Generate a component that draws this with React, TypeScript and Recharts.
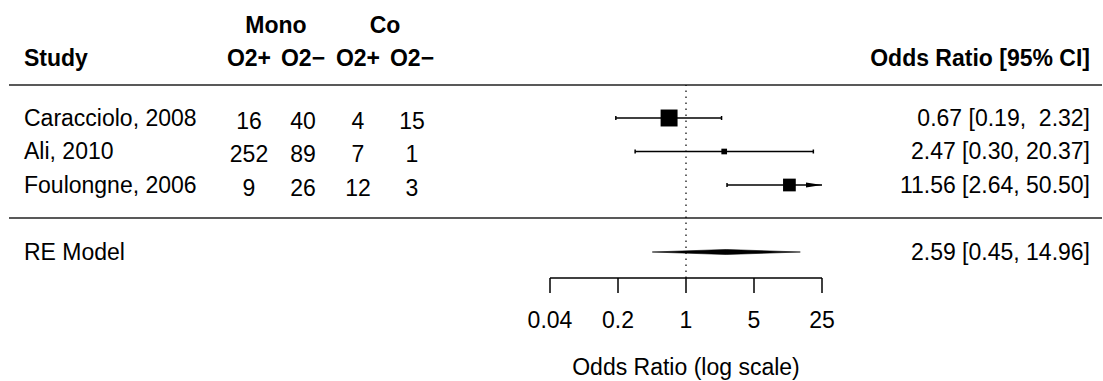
import React from 'react';
import { ComposedChart, Scatter, XAxis, YAxis, ReferenceLine, Customized } from 'recharts';

// study table
const studies = ['Caracciolo, 2008', 'Ali, 2010', 'Foulongne, 2006'];
const studyRows = [3, 2, 1];
const monoPos = [16, 252, 9];
const monoNeg = [40, 89, 26];
const coPos = [4, 7, 12];
const coNeg = [15, 1, 3];

// odds ratios with 95% CI
const orEst = [0.67, 2.47, 11.56];
const ciLow = [0.19, 0.3, 2.64];
const ciHigh = [2.32, 20.37, 50.5];

// random-effects summary
const reLabel = 'RE Model';
const reRow = -1;
const reEst = 2.59;
const reLow = 0.45;
const reHigh = 14.96;

const axisTicks = [0.04, 0.2, 1, 5, 25];
const alim: [number, number] = [0.04, 25];

const FONT = '"Liberation Sans", Arial, Helvetica, sans-serif';
const FS = 23;
const COL = { study: 24, mono1: 249, mono2: 303, co1: 358, co2: 412, ci: 1090 };
const CAP = 0.06;

const fmt = (v: number) => v.toFixed(2);
const hiWidth = Math.max(...ciHigh.map(v => fmt(v).length), fmt(reHigh).length);
const ciText = (e: number, l: number, h: number) => `${fmt(e)} [${fmt(l)}, ${fmt(h).padStart(hiWidth, ' ')}]`;

// square size ~ precision (1/se), rescaled to 0.5..1.5
const se = ciLow.map((l, i) => (Math.log(ciHigh[i]) - Math.log(l)) / (2 * 1.96));
const wi = se.map(s => 1 / s);
const minW = Math.min(...wi);
const maxW = Math.max(...wi);
const psize = wi.map(w => 0.5 + (w - minW) / (maxW - minW));

const pointData = studies.map((s, i) => ({ x: orEst[i], y: studyRows[i], psize: psize[i] }));
const arrowData = studies
  .map((s, i) => ({ x: alim[1], y: studyRows[i], over: ciHigh[i] > alim[1] }))
  .filter(d => d.over);

const labelData = [
  ...studies.map((s, i) => ({
    x: 1,
    y: studyRows[i],
    name: s,
    cells: [monoPos[i], monoNeg[i], coPos[i], coNeg[i]],
    ci: ciText(orEst[i], ciLow[i], ciHigh[i]),
  })),
  { x: 1, y: reRow, name: reLabel, cells: [], ci: ciText(reEst, reLow, reHigh) },
];

const diamondH = 0.075;
const diamondData = [
  { x: reLow, y: reRow },
  { x: reEst, y: reRow + diamondH },
  { x: reHigh, y: reRow },
  { x: reEst, y: reRow - diamondH },
];

const segments: { key: string; seg: { x: number; y: number }[] }[] = [];
studies.forEach((s, i) => {
  const r = studyRows[i];
  const lo = Math.max(ciLow[i], alim[0]);
  const hi = Math.min(ciHigh[i], alim[1]);
  segments.push({ key: `ci${i}`, seg: [{ x: lo, y: r }, { x: hi, y: r }] });
  if (ciLow[i] >= alim[0]) segments.push({ key: `lc${i}`, seg: [{ x: lo, y: r - CAP }, { x: lo, y: r + CAP }] });
  if (ciHigh[i] <= alim[1]) segments.push({ key: `hc${i}`, seg: [{ x: hi, y: r - CAP }, { x: hi, y: r + CAP }] });
});

const cellCols = [COL.mono1, COL.mono2, COL.co1, COL.co2];

const RowLabels = (props: any) => {
  const { cy, payload } = props;
  const t = { fontFamily: FONT, fontSize: FS, fill: '#000', dominantBaseline: 'central' as const };
  return (
    <g>
      <text x={COL.study} y={cy} {...t}>{payload.name}</text>
      {payload.cells.map((c: number, j: number) => (
        <text key={j} x={cellCols[j]} y={cy + 3} textAnchor="middle" {...t}>{c}</text>
      ))}
      <text x={COL.ci} y={cy} textAnchor="end" style={{ whiteSpace: 'pre' }} {...t}>{payload.ci}</text>
    </g>
  );
};

const Square = (props: any) => {
  const { cx, cy, payload } = props;
  const s = payload.psize * 11.3;
  return <rect x={cx - s / 2} y={cy - s / 2} width={s} height={s} fill="#000" />;
};

const Arrow = (props: any) => {
  const { cx, cy } = props;
  return <polygon points={`${cx - 16},${cy - 2.5} ${cx},${cy} ${cx - 16},${cy + 2.5}`} fill="#000" />;
};

const Diamond = (props: any) => {
  const pts = (props.points || []).map((p: any) => `${p.x},${p.y}`).join(' ');
  return <polygon points={pts} fill="#000" stroke="#000" strokeWidth={0.6} />;
};

const Header = () => {
  const b = { fontFamily: FONT, fontSize: FS, fill: '#000', fontWeight: 'bold' as const, dominantBaseline: 'central' as const };
  return (
    <g>
      <text x={(COL.mono1 + COL.mono2) / 2} y={25} textAnchor="middle" {...b}>Mono</text>
      <text x={(COL.co1 + COL.co2) / 2} y={25} textAnchor="middle" {...b}>Co</text>
      <text x={COL.study} y={58} {...b}>Study</text>
      <text x={COL.mono1} y={58} textAnchor="middle" {...b}>O2+</text>
      <text x={COL.mono2} y={58} textAnchor="middle" {...b}>O2{'\u2212'}</text>
      <text x={COL.co1} y={58} textAnchor="middle" {...b}>O2+</text>
      <text x={COL.co2} y={58} textAnchor="middle" {...b}>O2{'\u2212'}</text>
      <text x={COL.ci} y={58} textAnchor="end" {...b}>Odds Ratio [95% CI]</text>
      <line x1={9} x2={1102} y1={85} y2={85} stroke="#222" strokeWidth={1.5} />
      <line x1={9} x2={1102} y1={218} y2={218} stroke="#222" strokeWidth={1.5} />
    </g>
  );
};

export default function App() {
  return (
    <div style={{ position: 'absolute', left: 0, top: 0, width: 1103, height: 381, background: '#fff' }}>
      <ComposedChart width={1103} height={381} margin={{ top: 85, right: 281, bottom: 0, left: 550 }}>
        <XAxis
          dataKey="x"
          type="number"
          scale="log"
          domain={alim}
          ticks={axisTicks}
          interval={0}
          tickFormatter={(v: number) => String(v)}
          height={103}
          tickSize={15}
          tickMargin={19}
          axisLine={{ stroke: '#000', strokeWidth: 1.5 }}
          tickLine={{ stroke: '#000', strokeWidth: 1.5 }}
          tick={{ fill: '#000', fontSize: FS, fontFamily: FONT }}
          label={{ value: 'Odds Ratio (log scale)', position: 'insideBottom', offset: 6, fill: '#000', fontSize: FS, fontFamily: FONT }}
        />
        <YAxis dataKey="y" type="number" domain={[-1.776, 3.985]} hide />
        <Customized component={Header} />
        <ReferenceLine x={1} stroke="#000" strokeDasharray="1.5 4.5" strokeWidth={1.2} />
        {segments.map(s => (
          <ReferenceLine key={s.key} segment={s.seg} stroke="#000" strokeWidth={1.5} />
        ))}
        <Scatter data={pointData} shape={Square} isAnimationActive={false} />
        <Scatter data={arrowData} shape={Arrow} isAnimationActive={false} />
        <Scatter data={diamondData} shape={() => <g />} line={Diamond} isAnimationActive={false} />
        <Scatter data={labelData} shape={RowLabels} isAnimationActive={false} />
      </ComposedChart>
    </div>
  );
}
